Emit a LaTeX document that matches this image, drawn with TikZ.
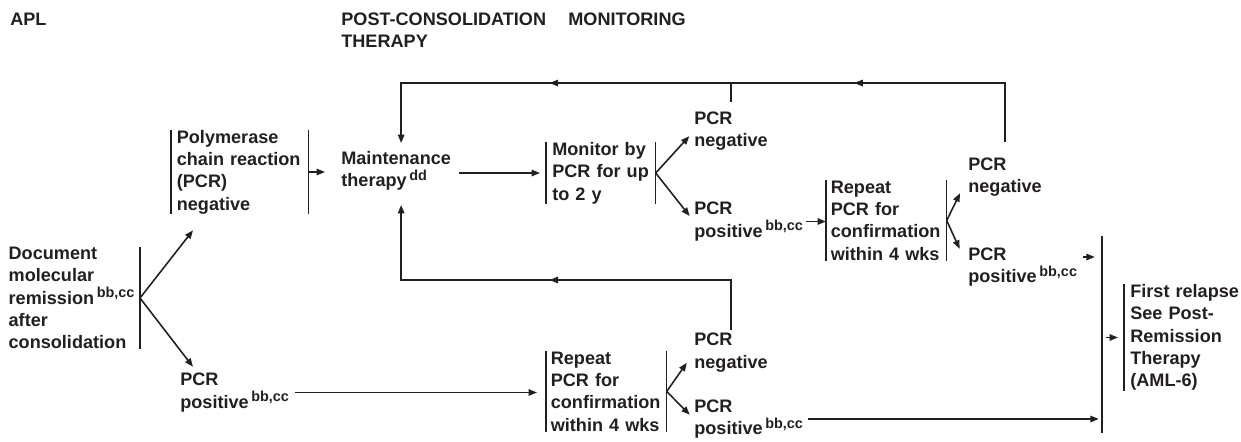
\documentclass[tikz,border=0pt]{standalone}
\usepackage{fontspec}
\setmainfont{Liberation Sans}
\usepackage{tikz}
\usetikzlibrary{positioning,arrows.meta,calc,decorations.markings}
\definecolor{ink}{HTML}{231F20}
\newcommand{\fnref}[1]{\kern1.5pt\raisebox{3.5pt}{\fontsize{8.2}{8.2}\selectfont #1}}
\tikzset{
    txt/.style={
        font=\fontsize{10.3}{12.7}\selectfont\bfseries, text=ink,
        align=left, inner sep=0pt, anchor=west
    },
    wire/.style={line width=0.9pt, color=ink},
    arrow/.style={wire, -{Triangle[length=1.7mm, width=1.3mm]}},
    midarrow/.style={
        wire, postaction={decorate},
        decoration={markings,
            mark=at position 0.55 with {\arrow{Triangle[length=1.7mm, width=1.3mm]}}}
    },
    twobar/.style={
        txt, inner xsep=#1,
        append after command={
            (\tikzlastnode.north west) edge[wire] (\tikzlastnode.south west)
            (\tikzlastnode.north east) edge[wire] (\tikzlastnode.south east)}
    },
    leftbar/.style={
        txt, inner xsep=#1,
        append after command={
            (\tikzlastnode.north west) edge[wire] (\tikzlastnode.south west)}
    },
    rightbar/.style={
        txt, inner xsep=#1,
        append after command={
            (\tikzlastnode.north east) edge[wire] (\tikzlastnode.south east)}
    },
}
\begin{document}
\begin{tikzpicture}[x=0.02cm, y=-0.02cm]
    \useasboundingbox (0,0) rectangle (1241,441);
    \node[txt] (apl) at (10,19) {APL};
    \node[txt] (post) at (341,30) {POST-CONSOLIDATION\\THERAPY};
    \node[txt] (mon) at (568,19) {MONITORING};

    \node[rightbar=0.04cm, text width=2.58cm, anchor=east] (doc) at (140,298) {Document\\molecular\\remission\fnref{bb,cc}\\after\\consolidation};
    \node[twobar=0.11cm, text width=2.52cm] (pcrneg) at (171,172) {Polymerase\\chain reaction\\(PCR)\\negative};
    \node[txt] (pcrpos) at (180,392.5) {PCR\\positive\fnref{bb,cc}};
    \node[txt] (maint) at (341,171) {Maintenance\\therapy\fnref{dd}};
    \node[twobar=0.12cm, text width=1.94cm] (monitor) at (546,173) {Monitor by\\PCR for up\\to 2 y};
    \node[txt] (neg1) at (694,131) {PCR\\negative};
    \node[txt] (pos1) at (694,221.5) {PCR\\positive\fnref{bb,cc}};
    \node[twobar=0.09cm, text width=2.22cm] (repeat1) at (826,220.5) {Repeat\\PCR for\\confirmation\\within 4 wks};
    \node[txt] (neg2) at (968,177) {PCR\\negative};
    \node[txt] (pos2) at (968,267) {PCR\\positive\fnref{bb,cc}};
    \node[twobar=0.09cm, text width=2.22cm] (repeat0) at (546,391.5) {Repeat\\PCR for\\confirmation\\within 4 wks};
    \node[txt] (neg0) at (694,352.5) {PCR\\negative};
    \node[txt] (pos0) at (694,419) {PCR\\positive\fnref{bb,cc}};
    \node[leftbar=0pt, minimum height=3.94cm, anchor=center] (merge) at (1103,334.5) {};
    \node[leftbar=0.12cm, text width=2.25cm] (relapse) at (1124,337.5) {First relapse\\See Post-\\Remission\\Therapy\\(AML-6)};

    \coordinate (topy) at (0,83);
    \coordinate (midy) at (0,280);
    \coordinate (mtop) at ([xshift=0.1cm]maint.north);
    \coordinate (mbot) at ([xshift=0.1cm]maint.south);
    \coordinate (p2) at ([yshift=0.2cm]pos2.east);

    \draw[arrow] (doc.east) -- ($(pcrneg.south west)+(22,16)$);
    \draw[arrow] (doc.east) -- ($(pcrpos.north west)+(13,-6)$);
    \draw[arrow, shorten >=0.32cm] (pcrneg.east) -- (pcrneg.east -| maint.west);
    \draw[arrow, shorten <=0.16cm, shorten >=0.12cm] (maint.east |- monitor.west) -- (monitor.west);
    \draw[arrow, shorten >=0.14cm] (monitor.east) -- (neg1.west);
    \draw[arrow, shorten >=0.14cm] (monitor.east) -- (pos1.west);
    \draw[arrow, shorten <=0.06cm] (pos1.east) -- (pos1.east -| repeat1.west);
    \draw[arrow, shorten >=0.36cm] (repeat1.east) -- (neg2.west);
    \draw[arrow, shorten >=0.4cm] (repeat1.east) -- (pos2.west);
    \draw[arrow, shorten <=0.12cm, shorten >=0.14cm] (p2) -- (p2 -| merge.west);
    \draw[arrow, shorten <=0.04cm, shorten >=0.12cm] (merge.east |- relapse.west) -- (relapse.west);
    \draw[arrow, shorten <=0.12cm, shorten >=0.18cm] (pcrpos.east) -- (pcrpos.east -| repeat0.west);
    \draw[arrow, shorten >=0.25cm] (repeat0.east) -- (neg0.west);
    \draw[arrow, shorten >=0.12cm] (repeat0.east) -- (pos0.west);
    \draw[arrow, shorten <=0.1cm, shorten >=0.06cm] (pos0.east) -- (pos0.east -| merge.west);

    \draw[arrow, shorten <=0.3cm, shorten >=0.16cm] (neg2.north) |- (mtop |- topy) -- (mtop);
    \draw[midarrow] (neg2.north |- topy) -- (neg1.north |- topy);
    \draw[midarrow] (neg1.north |- topy) -- (mtop |- topy);
    \draw[wire, shorten <=0.19cm] (neg1.north) -- (neg1.north |- topy);
    \draw[arrow, shorten <=0.06cm, shorten >=0.28cm] (neg0.north) |- (mbot |- midy) -- (mbot);
    \draw[midarrow] (neg0.north |- midy) -- (mbot |- midy);
\end{tikzpicture}
\end{document}
